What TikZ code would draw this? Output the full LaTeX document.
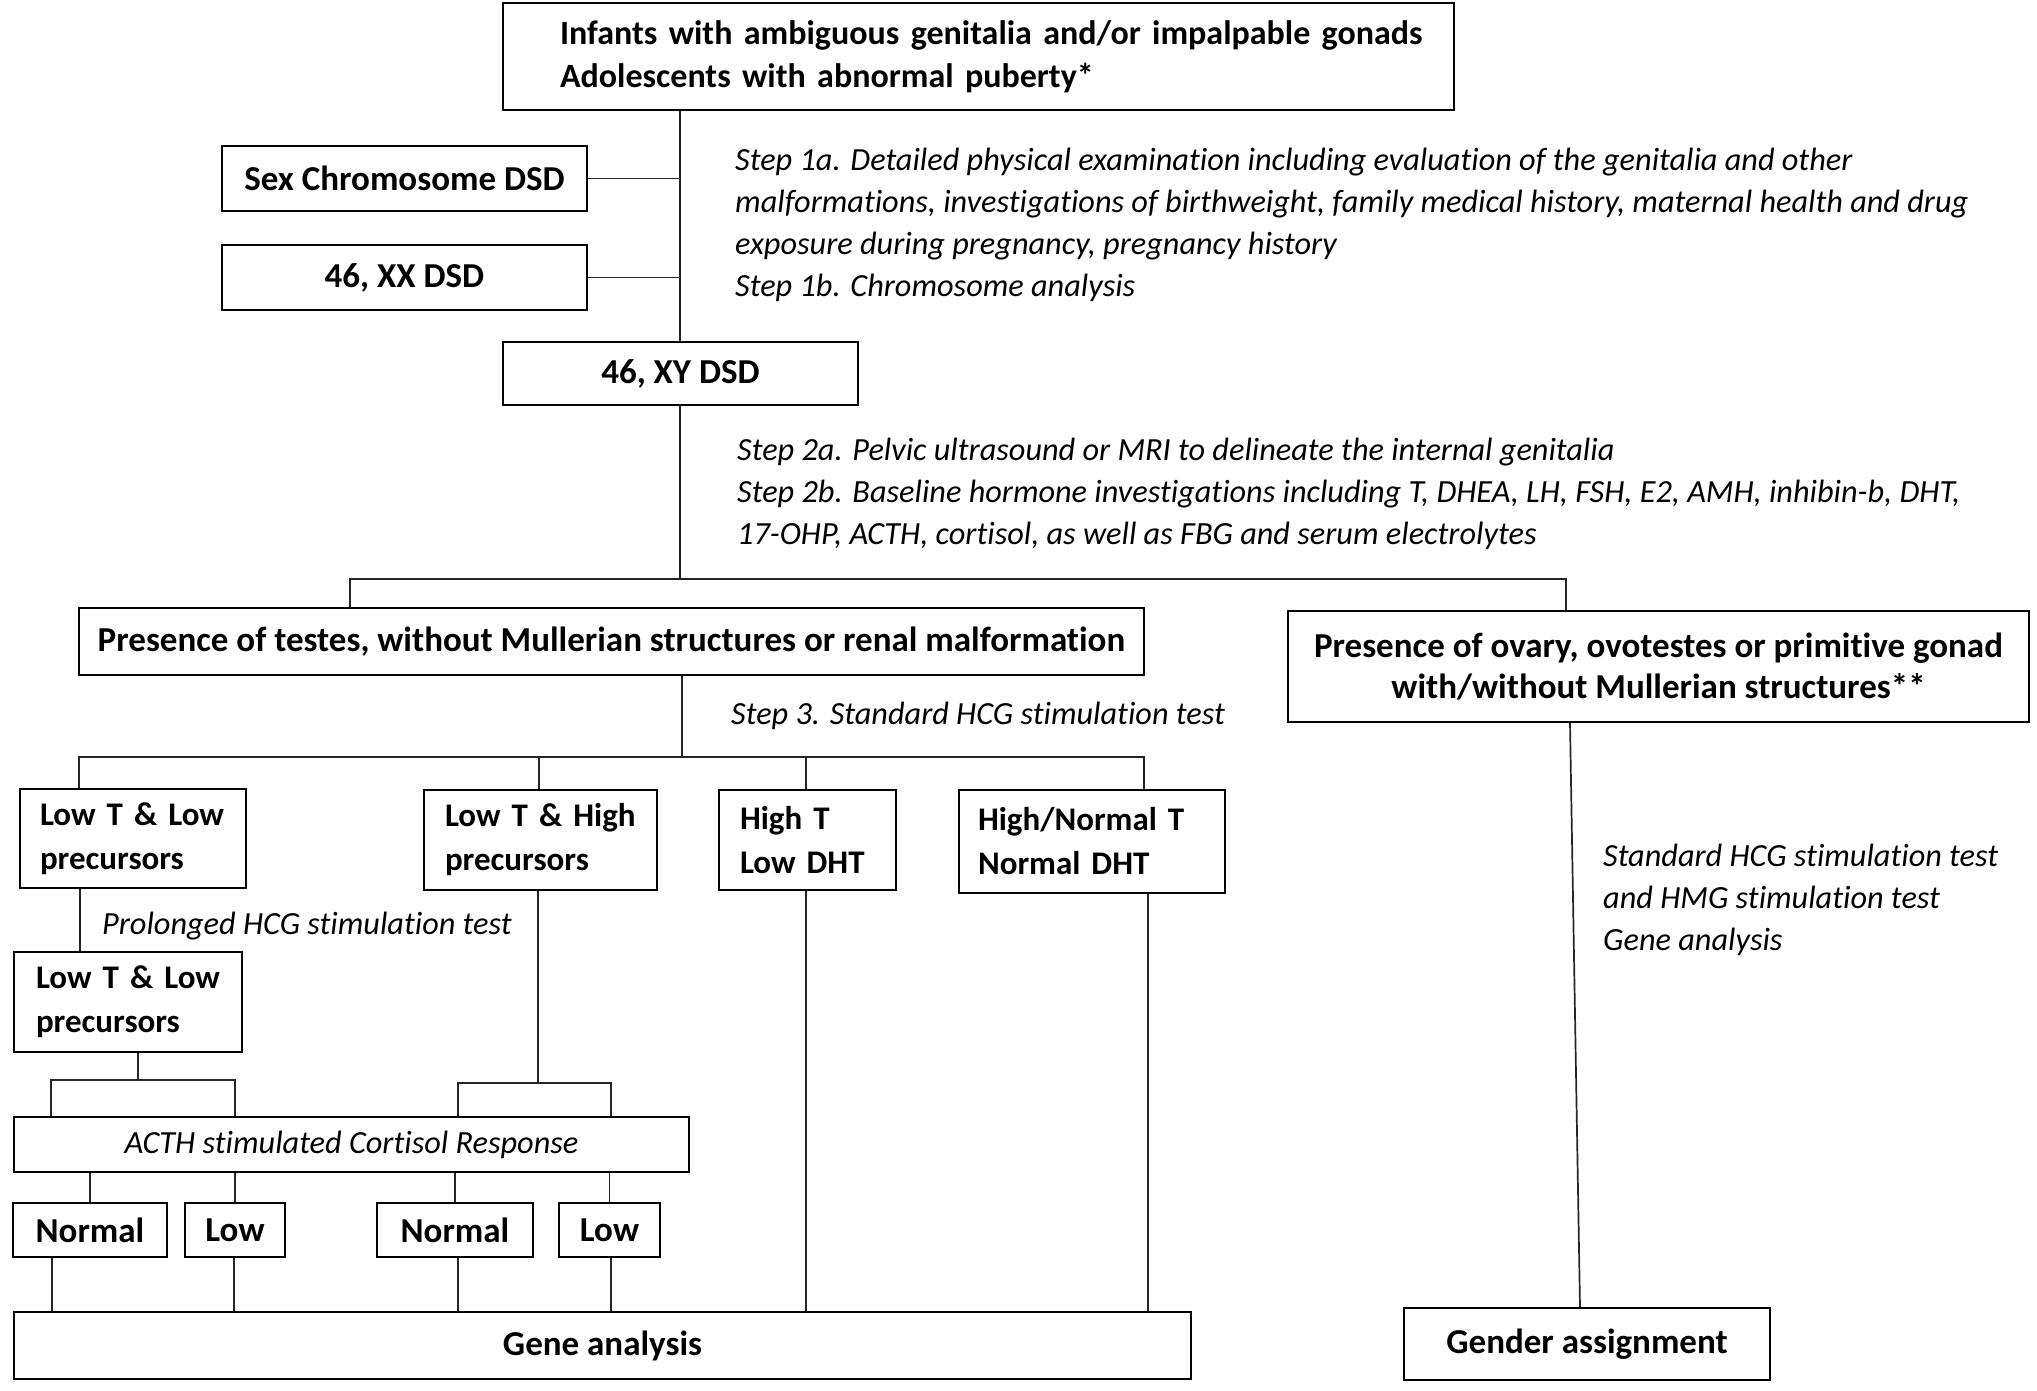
\documentclass[tikz,border=0pt]{standalone}
\usepackage{fontspec}
\setmainfont{Carlito}[Ligatures=NoCommon]
\begin{document}
\begin{tikzpicture}[x=1pt,y=-1pt,
  box/.style={draw=black, line width=2.2pt, inner sep=0pt, fill=white,
    font=\bfseries\fontsize{35}{44}\selectfont},
  tbox/.style={box, align=left, font=\bfseries\fontsize{33}{44}\selectfont},
  ibox/.style={draw=black, line width=2.2pt, inner sep=0pt,
    font=\itshape\fontsize{32.3}{42}\selectfont},
  note/.style={inner sep=0pt, anchor=west, align=left,
    font=\itshape\fontsize{32.3}{42}\selectfont},
  conn/.style={draw=black!85, line width=1.7pt}]
\useasboundingbox[fill=white] (0,0) rectangle (2037,1390);

% ---------- boxes ----------
\node[box, minimum width=951pt, minimum height=107pt, text width=837pt, align=left,
  font=\bfseries\fontsize{34}{43}\selectfont] (top) at (978.5,56.5)
  {\mbox{Infants with ambiguous genitalia and/or impalpable gonads}\\\mbox{Adolescents with abnormal puberty*}};
\node[box, minimum width=365pt, minimum height=65pt] (sex) at (404.5,178.5) {Sex Chromosome DSD};
\node[box, minimum width=365pt, minimum height=65pt] (xx) at (404.5,277.5) {46, XX DSD};
\node[box, minimum width=355pt, minimum height=63pt] (xy) at (680.5,373.5) {46, XY DSD};
\node[box, minimum width=1065pt, minimum height=67pt] (testes) at (611.5,641.5)
  {Presence of testes, without Mullerian structures or renal malformation};
\node[box, minimum width=741pt, minimum height=111pt, align=center, font=\bfseries\fontsize{35}{41}\selectfont] (ovary) at (1658.5,666.5)
  {Presence of ovary, ovotestes or primitive gonad\\with/without Mullerian structures**};

\node[tbox, minimum width=226pt, minimum height=99pt, text width=186pt] (b1) at (133,838.5)
  {\mbox{Low T \& Low}\\\mbox{precursors}};
\node[tbox, minimum width=233pt, minimum height=100pt, text width=191pt] (b2) at (540.5,840)
  {\mbox{Low T \& High}\\\mbox{precursors}};
\node[tbox, minimum width=177pt, minimum height=100pt, text width=135pt] (b3) at (807.5,840)
  {\mbox{High T}\\\mbox{Low DHT}};
\node[tbox, minimum width=266pt, minimum height=103pt, text width=228pt] (b4) at (1092,841.5)
  {\mbox{High/Normal T}\\\mbox{Normal DHT}};
\node[tbox, minimum width=228pt, minimum height=100pt, text width=184pt] (b5) at (128,1002)
  {\mbox{Low T \& Low}\\\mbox{precursors}};

\node[ibox, minimum width=675pt, minimum height=55pt] (acth) at (351.5,1144.5) {ACTH stimulated Cortisol Response};

\node[box, minimum width=154pt, minimum height=54pt] (n1) at (90,1230) {Normal};
\node[box, minimum width=100pt, minimum height=54pt] (l1) at (235,1230) {Low};
\node[box, minimum width=156pt, minimum height=54pt] (n2) at (455,1230) {Normal};
\node[box, minimum width=101pt, minimum height=54pt] (l2) at (609.5,1230) {Low};

\node[box, minimum width=1177pt, minimum height=67pt] (gene) at (602.5,1345.5) {Gene analysis};
\node[box, minimum width=366pt, minimum height=72pt] (gender) at (1587,1344) {Gender assignment};

% ---------- notes ----------
\node[note] (step1) at (735,224.5)
  {Step 1a. Detailed physical examination including evaluation of the genitalia and other\\
   malformations, investigations of birthweight, family medical history, maternal health and drug\\
   exposure during pregnancy, pregnancy history\\
   Step 1b. Chromosome analysis};
\node[note] (step2) at (737,494)
  {Step 2a. Pelvic ultrasound or MRI to delineate the internal genitalia\\
   Step 2b. Baseline hormone investigations including T, DHEA, LH, FSH, E2, AMH, inhibin-b, DHT,\\
   17-OHP, ACTH, cortisol, as well as FBG and serum electrolytes};
\node[note] (step3) at (731,716) {Step 3. Standard HCG stimulation test};
\node[note] (prol) at (102,926) {Prolonged HCG stimulation test};
\node[note] (rnote) at (1603,900)
  {Standard HCG stimulation test\\and HMG stimulation test\\Gene analysis};

% ---------- junction coordinates ----------
\coordinate (sp) at (680,0);
\coordinate (jL) at (350,579);
\coordinate (jR) at (1566,579);
\coordinate (t3) at (682,757);
\coordinate (rL) at (79,757);
\coordinate (rR) at (1144,757);
\coordinate (x2) at (539,0);
\coordinate (x3) at (806,0);
\coordinate (pv) at (80,0);
\coordinate (a5) at (138,1080);
\coordinate (a5L) at (51,1080);
\coordinate (a5R) at (235,1080);
\coordinate (a2) at (538,1083);
\coordinate (a2L) at (458,1083);
\coordinate (a2R) at (611,1083);
\coordinate (g1) at (52,0);
\coordinate (g2) at (234,0);
\coordinate (g3) at (458,0);
\coordinate (g4) at (611,0);
\coordinate (g5) at (1148,0);
\coordinate (ov) at (1570,0);
\coordinate (gd) at (1580,0);

% ---------- connectors ----------
\draw[conn] (top.south -| sp) -- (xy.north -| sp);
\draw[conn] (sex.east) -- (sex.east -| sp);
\draw[conn] (xx.east) -- (xx.east -| sp);
\draw[conn] (xy.south -| sp) -- (sp |- jL);
\draw[conn] (testes.north -| jL) -- (jL) -- (jR) -- (ovary.north -| jR);
\draw[conn] (testes.south -| t3) -- (t3);
\draw[conn] (b1.north -| rL) -- (rL) -- (rR) -- (b4.north -| rR);
\draw[conn] (b2.north -| x2) -- (x2 |- rL);
\draw[conn] (b3.north -| x3) -- (x3 |- rL);
\draw[conn] (b1.south -| pv) -- (b5.north -| pv);
\draw[conn] (b5.south -| a5) -- (a5);
\draw[conn] (acth.north -| a5L) -- (a5L) -- (a5R) -- (acth.north -| a5R);
\draw[conn] (b2.south -| a2) -- (a2);
\draw[conn] (acth.north -| a2L) -- (a2L) -- (a2R) -- (acth.north -| a2R);
\draw[conn] (acth.south -| n1.north) -- (n1.north);
\draw[conn] (acth.south -| l1.north) -- (l1.north);
\draw[conn] (acth.south -| n2.north) -- (n2.north);
\draw[conn] (acth.south -| l2.north) -- (l2.north);
\draw[conn] (n1.south -| g1) -- (gene.north -| g1);
\draw[conn] (l1.south -| g2) -- (gene.north -| g2);
\draw[conn] (n2.south -| g3) -- (gene.north -| g3);
\draw[conn] (l2.south -| g4) -- (gene.north -| g4);
\draw[conn] (b3.south -| x3) -- (gene.north -| x3);
\draw[conn] (b4.south -| g5) -- (gene.north -| g5);
\draw[conn] (ovary.south -| ov) -- (gender.north -| gd);
\end{tikzpicture}
\end{document}
